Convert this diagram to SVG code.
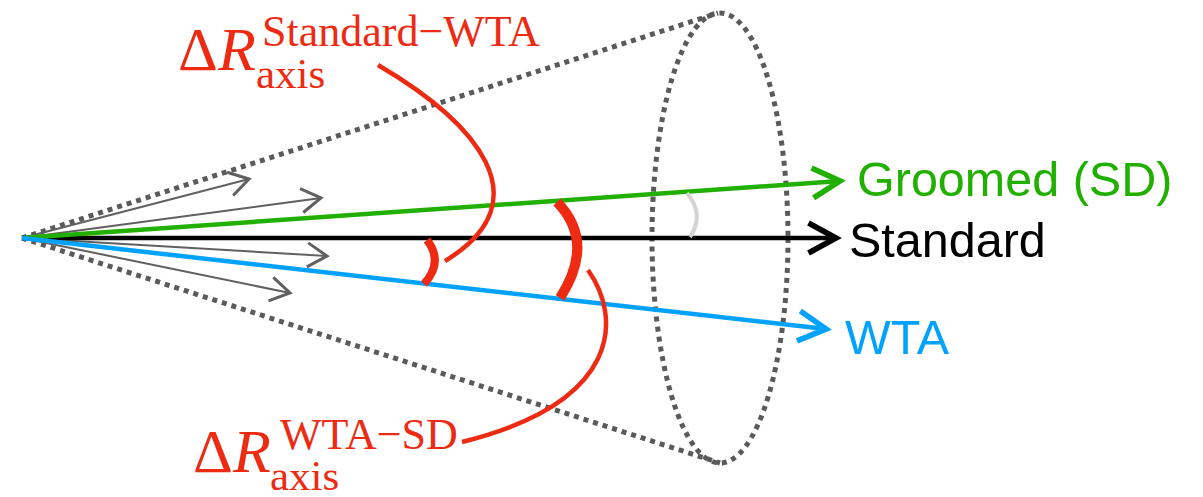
<svg xmlns="http://www.w3.org/2000/svg" width="1203" height="497" viewBox="0 0 1203 497">
<style>
.dot{fill:none;stroke:#5a5a5a;stroke-width:5;stroke-dasharray:5 5}
.thin{fill:none;stroke:#606060;stroke-width:2;marker-end:url(#mg)}
.lab{font-family:"Liberation Sans",Arial,sans-serif;font-size:48.5px}
.math{font-family:"Liberation Serif","Times New Roman",serif;fill:#ee2a12}
.red{fill:none;stroke:#ee2a12;stroke-linecap:butt}
</style>
<defs>
<marker id="mg" markerUnits="userSpaceOnUse" markerWidth="30" markerHeight="30" refX="0" refY="0" viewBox="-16 -10 18 20" orient="auto"><path d="M-13,-8 L0,0 L-13,8" fill="none" stroke="#606060" stroke-width="2"/></marker>
<marker id="mk" markerUnits="userSpaceOnUse" markerWidth="40" markerHeight="40" refX="0" refY="0" viewBox="-26 -16 30 32" orient="auto"><path d="M-22,-12 L0,0 L-22,12" fill="none" stroke="#000" stroke-width="4.5"/></marker>
<marker id="mgr" markerUnits="userSpaceOnUse" markerWidth="40" markerHeight="40" refX="0" refY="0" viewBox="-26 -16 30 32" orient="auto"><path d="M-22,-12 L0,0 L-22,12" fill="none" stroke="#22b000" stroke-width="4.5"/></marker>
<marker id="mb" markerUnits="userSpaceOnUse" markerWidth="40" markerHeight="40" refX="0" refY="0" viewBox="-26 -16 30 32" orient="auto"><path d="M-22,-12 L0,0 L-22,12" fill="none" stroke="#00a2ff" stroke-width="4.5"/></marker>
</defs>
<rect width="1203" height="497" fill="#fff"/>
<g id="cone">
<line class="dot" x1="22" y1="238" x2="718" y2="13"/>
<line class="dot" x1="22" y1="238" x2="720" y2="463"/>
<ellipse class="dot" cx="720" cy="238" rx="68" ry="225"/>
</g>
<g id="connectors">
<line class="thin" x1="22" y1="238" x2="249" y2="179"/>
<line class="thin" x1="22" y1="238" x2="321" y2="198"/>
<line class="thin" x1="22" y1="238" x2="327" y2="256"/>
<line class="thin" x1="22" y1="238" x2="290" y2="293"/>
<line x1="22" y1="238" x2="836" y2="238" stroke="#000" stroke-width="4.5" marker-end="url(#mk)"/>
<line x1="22" y1="238" x2="840" y2="181" stroke="#22b000" stroke-width="4.5" marker-end="url(#mgr)"/>
<line x1="22" y1="238" x2="826" y2="329" stroke="#00a2ff" stroke-width="4.5" marker-end="url(#mb)"/>
<path d="M687,193 Q705,215 690,237" fill="none" stroke="#d4d4d4" stroke-width="4"/>
<path class="red" d="M427,240 Q444,262 424,284" stroke-width="8"/>
<path class="red" d="M557,202 Q596,242 560,298" stroke-width="10"/>
<path class="red" d="M378,65 C475,122 545,200 445,261" stroke-width="4.5"/>
<path class="red" d="M588,270 C622,318 622,402 462,442" stroke-width="4.5"/>
</g>
<g id="label-groomed"><text class="lab" x="857" y="196" fill="#22b000">Groomed (SD)</text></g>
<g id="label-standard"><text class="lab" x="849" y="257" fill="#000">Standard</text></g>
<g id="label-wta"><text class="lab" x="845" y="354" fill="#00a2ff">WTA</text></g>
<g id="label-dr-std-wta">
<text class="math"><tspan x="178" y="70" font-size="62">Δ</tspan><tspan font-size="62" font-style="italic">R</tspan><tspan x="262" y="46" font-size="44">Standard−WTA</tspan><tspan x="256" y="88" font-size="43">axis</tspan></text>
</g>
<g id="label-dr-wta-sd">
<text class="math"><tspan x="193" y="472" font-size="62">Δ</tspan><tspan font-size="62" font-style="italic">R</tspan><tspan x="280" y="449" font-size="44">WTA−SD</tspan><tspan x="270" y="490" font-size="43">axis</tspan></text>
</g>
</svg>
